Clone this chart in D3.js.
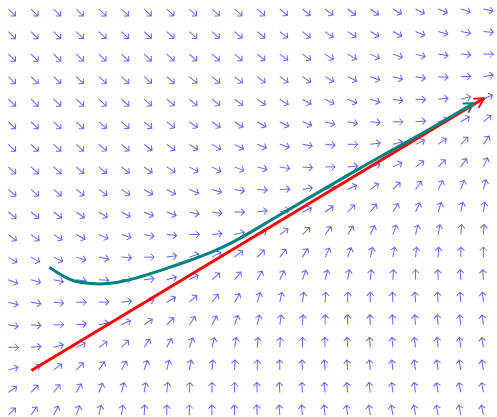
<!DOCTYPE html>
<html>
<head>
<meta charset="utf-8">
<script src="https://cdn.jsdelivr.net/npm/d3@7"></script>
<style>
  body { margin: 0; background: #fff; }
  svg { display: block; }
</style>
</head>
<body>
<script>
// grid columns / rows (data units)
var cols = d3.range(22);
var rows = d3.range(19); // 0 = bottom row

// arrow direction in degrees, one list per row, top row first
var angles = [
  [-45,-45,-45,-45,-44,-44,-44,-43,-43,-42,-42, -42,-40,-40,-38,-37,-35,-30,-28,-22,-18,-12],
  [-45,-45,-45,-44,-44,-44,-43,-43,-42,-42,-41, -40,-38,-38,-36,-33,-30,-28,-22,-15,-10,-5],
  [-45,-45,-44,-44,-44,-43,-43,-42,-42,-41,-40, -39,-37,-35,-33,-30,-25,-20,-15,-10,-5,0],
  [-45,-44,-44,-44,-43,-43,-42,-41,-40,-39,-38, -37,-35,-33,-30,-26,-20,-15,-10,-4,2,10],
  [-44,-44,-44,-43,-43,-42,-41,-40,-40,-38,-36, -35,-33,-30,-28,-24,-18,-10,-3,5,15,25],
  [-44,-44,-43,-43,-42,-41,-40,-38,-36,-35,-33, -30,-28,-22,-15,-10,-5,0,5,15,30,40],
  [-44,-44,-43,-42,-41,-40,-38,-35,-33,-30,-28, -22,-18,-10,-5,0,8,15,25,35,45,55],
  [-43,-43,-42,-41,-40,-38,-36,-33,-30,-28,-22, -15,-10,-5,0,5,15,25,35,45,55,65],
  [-42,-41,-40,-38,-36,-33,-30,-28,-22,-16,-10, -4,3,10,18,25,35,45,55,62,70,75],
  [-40,-39,-37,-35,-32,-28,-24,-20,-14,-8,-2, 8,15,25,35,45,52,58,65,72,78,82],
  [-37,-35,-32,-28,-24,-18,-12,-6,0,6,14, 22,35,45,52,58,64,70,76,80,84,86],
  [-32,-30,-25,-18,-12,-5,0,8,18,28,38, 45,52,58,64,70,76,80,84,87,89,90],
  [-22,-17,-12,-8,-4,0,6,15,28,40,50, 60,65,70,75,80,84,87,90,92,93,94],
  [-15,-10,-5,0,3,8,15,30,42,52,60, 72,78,82,86,89,91,93,94,95,95,96],
  [-10,-5,0,5,12,25,35,45,55,62,70, 76,82,86,89,91,93,94,95,96,97,98],
  [0,5,15,25,35,45,55,62,70,75,80, 84,87,90,92,94,95,96,97,98,99,100],
  [15,25,35,45,55,62,70,75,80,84,87, 89,91,93,94,95,96,97,98,99,100,100],
  [35,45,52,60,68,75,80,84,87,89,90, 92,93,94,95,96,97,98,99,100,101,101],
  [45,55,62,70,77,82,86,89,90,91,92, 93,95,96,97,98,99,100,100,101,101,102]
];

// curved trajectory (teal)
var curveX = [1.81,2.30,2.70,3.17,4.05,4.79,5.51,6.70,7.88,9.05,9.93,10.64,12.01,13.50,14.97,16.44,17.92,18.80,19.69,20.57];
var curveY = [6.55,6.22,6.00,5.86,5.79,5.86,6.02,6.40,6.80,7.24,7.66,8.06,8.88,9.75,10.62,11.45,12.27,12.78,13.30,13.82];

// straight path (red)
var lineX = [1.02, 21.03];
var lineY = [1.97, 14.04];

var width = 497, height = 417;

var x = d3.scaleLinear().domain([0, 21]).range([8.4, 483.4]);
var y = d3.scaleLinear().domain([0, 18]).range([415, 9]);

var svg = d3.select("body").append("svg")
    .attr("width", width).attr("height", height);

svg.append("rect").attr("width", width).attr("height", height).attr("fill", "#fff");

var defs = svg.append("defs");
function head(id, color) {
  defs.append("marker")
      .attr("id", id)
      .attr("viewBox", "0 0 10 10")
      .attr("refX", 9).attr("refY", 5)
      .attr("markerWidth", 4).attr("markerHeight", 4)
      .attr("markerUnits", "strokeWidth")
      .attr("orient", "auto")
    .append("path")
      .attr("d", "M1,0.5 L9,5 L1,9.5")
      .attr("fill", "none")
      .attr("stroke", color)
      .attr("stroke-width", 1.6);
}
head("head-red", "#ff0000");
head("head-teal", "#008080");

// quiver field
var field = [];
rows.forEach(function(r) {
  cols.forEach(function(c) {
    field.push({col: c, row: r, a: angles[18 - r][c]});
  });
});

svg.append("g").attr("class", "quiver")
  .selectAll("path")
  .data(field)
  .enter().append("path")
    .attr("transform", function(d) {
      return "translate(" + x(d.col) + "," + y(d.row) + ") rotate(" + (-d.a) + ")";
    })
    .attr("d", "M0,0 L10,0 M6.5,-3.5 L10,0 L6.5,3.5")
    .attr("fill", "none")
    .attr("stroke", "#3f3fff")
    .attr("stroke-opacity", 0.8)
    .attr("stroke-width", 1);

var line = d3.line()
    .x(function(d) { return x(d[0]); })
    .y(function(d) { return y(d[1]); });

svg.append("path")
    .datum(d3.zip(lineX, lineY))
    .attr("d", line)
    .attr("fill", "none")
    .attr("stroke", "#ff0000")
    .attr("stroke-width", 3)
    .attr("marker-end", "url(#head-red)");

svg.append("path")
    .datum(d3.zip(curveX, curveY))
    .attr("d", line.curve(d3.curveBasis))
    .attr("fill", "none")
    .attr("stroke", "#008080")
    .attr("stroke-width", 3)
    .attr("marker-end", "url(#head-teal)");
</script>
</body>
</html>
